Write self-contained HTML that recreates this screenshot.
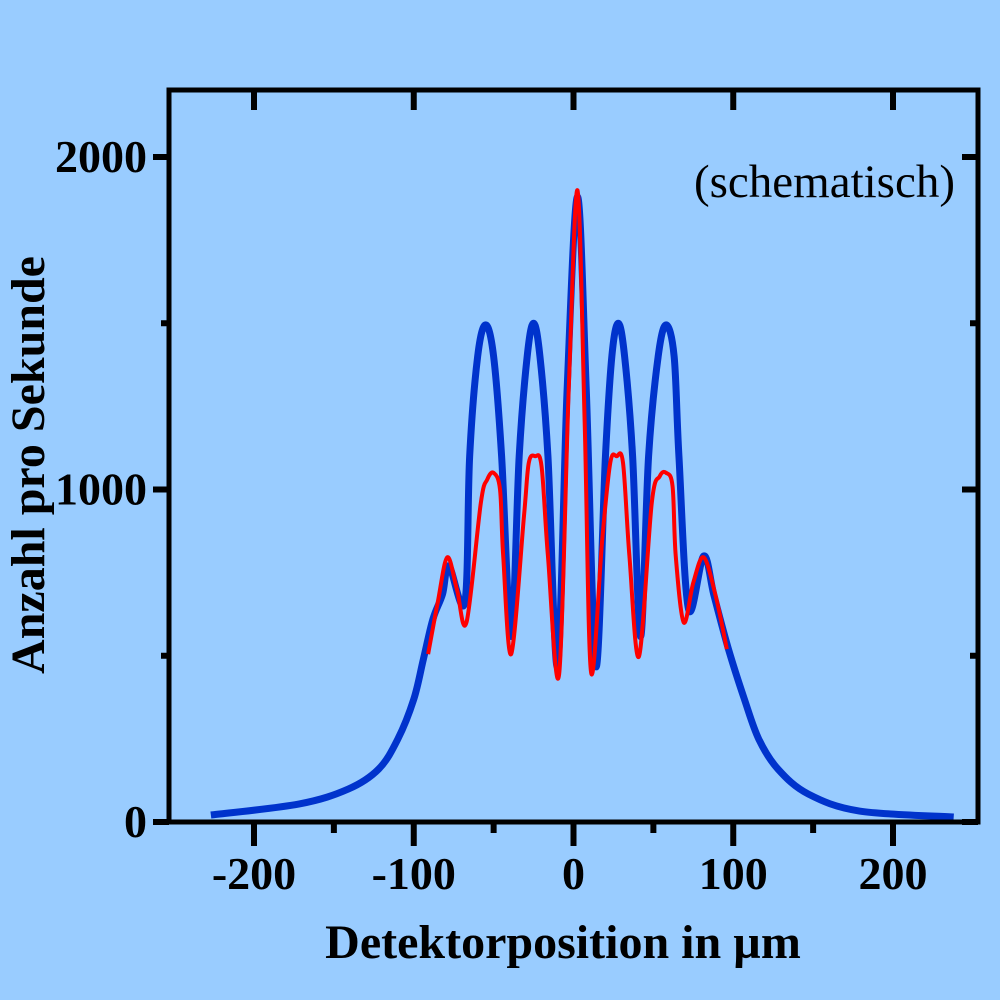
<!DOCTYPE html>
<html><head><meta charset="utf-8"><style>
html,body{margin:0;padding:0;background:#99ccff;}
svg{display:block;}
text{font-family:"Liberation Serif",serif;fill:#000;}
</style></head><body>
<svg id="chart" width="1000" height="1000" viewBox="0 0 1000 1000">
<rect x="0" y="0" width="1000" height="1000" fill="#99ccff"/>
<g id="marks"></g>
<rect x="169" y="90" width="809" height="732" fill="none" stroke="#000" stroke-width="5"/>
<g id="axes"></g>
<text x="955" y="197" font-size="47" text-anchor="end">(schematisch)</text>
<text x="563" y="958" font-size="48" font-weight="bold" text-anchor="middle">Detektorposition in µm</text>
<text x="0" y="0" font-size="48" font-weight="bold" text-anchor="middle" transform="translate(44,465) rotate(-90)">Anzahl pro Sekunde</text>
</svg>
<script>
const blueX=[-227,-172,-141,-122,-110,-100,-94,-88,-82,-78,-68,-65,-60,-55,-50,-45,-39,-34,-29,-25,-21,-16,-10,-4,2.5,8,14,20,24,28,32,37,42,47,53,58,63,66,72,81.5,88,97,107,116,128,147,179,238];
const blueY=[21,54,99,159,249,369,489,610,685,770,661,1100,1400,1495,1400,1100,558,1100,1400,1500,1400,1100,468,1300,1880,1300,468,1100,1400,1500,1400,1100,558,1100,1400,1495,1400,1100,640,800,680,520,369,249,159,84,33,15];
const redX=[-91,-85,-79,-73,-67,-58,-54,-50,-46,-44,-39,-31,-28,-24,-20,-16,-9,-3,2.5,7,11,18,23,27,31,35,41,49,54,58,62,64,69,75,81.5,89,96];
const redY=[505,660,796,700,600,960,1030,1050,1000,800,505,920,1080,1100,1070,800,444,1300,1900,1200,450,850,1080,1100,1080,800,498,960,1040,1050,1010,800,600,720,796,680,520];
const xTicks=[-200,-100,0,100,200];
const xMinor=[-150,-50,50,150];
const yTicks=[0,1000,2000];
const yMinor=[500,1500];
const X=v=>573.5+v*1.5975;
const Y=v=>822-v*0.3325;
const NS='http://www.w3.org/2000/svg';
function mk(t,a){const e=document.createElementNS(NS,t);for(const k in a)e.setAttribute(k,a[k]);return e;}
function path(xs,ys){
  const p=xs.map((x,i)=>[X(x),Y(ys[i])]);
  let d='M'+p[0][0]+','+p[0][1];
  for(let i=0;i<p.length-1;i++){
    const p0=p[i-1]||p[i],p1=p[i],p2=p[i+1],p3=p[i+2]||p2;
    const c1=[p1[0]+(p2[0]-p0[0])/6,p1[1]+(p2[1]-p0[1])/6];
    const c2=[p2[0]-(p3[0]-p1[0])/6,p2[1]-(p3[1]-p1[1])/6];
    d+=' C'+c1[0]+','+c1[1]+' '+c2[0]+','+c2[1]+' '+p2[0]+','+p2[1];
  }
  return d;
}
const marks=document.getElementById('marks');
const bl=mk('path',{d:path(blueX,blueY),fill:'none',stroke:'#0033cc','stroke-width':7});


marks.appendChild(bl);
const rl=mk('path',{d:path(redX,redY),fill:'none',stroke:'#ff0000','stroke-width':4});


marks.appendChild(rl);
const ax=document.getElementById('axes');
xTicks.forEach(v=>{
  const t=mk('line',{x1:X(v),x2:X(v),y1:822,y2:846,stroke:'#000','stroke-width':6});
  
  
  ax.appendChild(t);
  const tt=mk('line',{x1:X(v),x2:X(v),y1:90,y2:110,stroke:'#000','stroke-width':6});
  
  
  ax.appendChild(tt);
  const l=mk('text',{x:X(v),y:889,'font-size':46,'font-weight':'bold','text-anchor':'middle'});
  l.textContent=v;
  
  
  ax.appendChild(l);
});
xMinor.forEach(v=>{
  const t=mk('line',{x1:X(v),x2:X(v),y1:822,y2:833,stroke:'#000','stroke-width':6});
  
  
  ax.appendChild(t);
});
yTicks.forEach(v=>{
  const t=mk('line',{x1:153,x2:169,y1:Y(v),y2:Y(v),stroke:'#000','stroke-width':6});
  
  
  ax.appendChild(t);
  const r=mk('line',{x1:962,x2:978,y1:Y(v),y2:Y(v),stroke:'#000','stroke-width':6});
  
  
  ax.appendChild(r);
  const l=mk('text',{x:147,y:Y(v)+15,'font-size':46,'font-weight':'bold','text-anchor':'end'});
  l.textContent=v;
  
  
  ax.appendChild(l);
});
yMinor.forEach(v=>{
  const t=mk('line',{x1:161,x2:169,y1:Y(v),y2:Y(v),stroke:'#000','stroke-width':6});
  
  
  ax.appendChild(t);
  const r=mk('line',{x1:970,x2:978,y1:Y(v),y2:Y(v),stroke:'#000','stroke-width':6});
  
  
  ax.appendChild(r);
});
</script>
</body></html>
